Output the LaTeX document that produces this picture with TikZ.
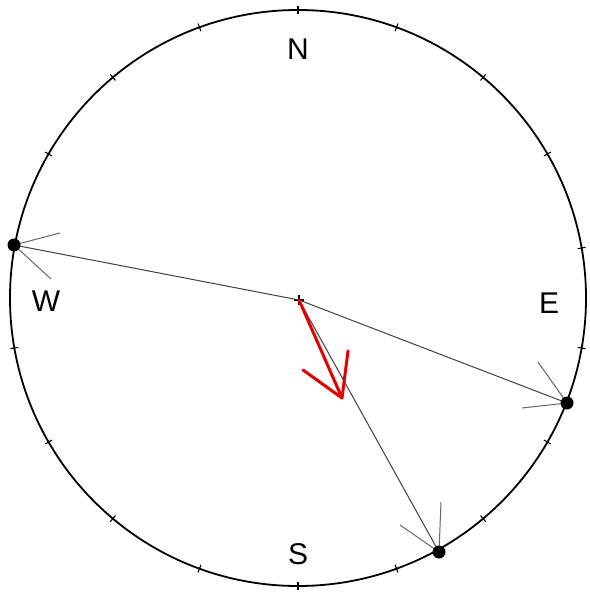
\documentclass[tikz,border=0pt]{standalone}
\usepackage{fontspec}
\setmainfont{Liberation Sans}
\begin{document}
\begin{tikzpicture}[x=1pt,y=-1pt,
  net/.style={line width=1.8pt,black},
  tickmark/.style={line width=1.1pt,black},
  gc/.style={line width=1pt,black!75},
  wing/.style={line width=1pt,black!60},
  pole/.style={circle,fill=black,inner sep=0pt,minimum size=13pt},
  dirlabel/.style={font=\fontsize{30}{30}\selectfont,anchor=base,inner sep=0pt},
  vec/.style={line width=3pt,red!90!black,line cap=round,line join=round}]
\useasboundingbox (0,0) rectangle (589,593);
\coordinate (O) at (298,298);
\draw[net] (O) circle (288);
\foreach \a in {0,20,...,340}
  \draw[tickmark] (O) ++(\a-90:284) -- ++(\a-90:8);
% centre cross
\coordinate (C) at (299,300);
\draw[tickmark] (C) ++(-5,0) -- ++(10,0);
\draw[tickmark] (C) ++(0,-5) -- ++(0,10);
% labels
\node[dirlabel] (N) at (298,60) {N};
\node[dirlabel] (E) at (549,313) {E};
\node[dirlabel] (S) at (298,564) {S};
\node[dirlabel] (W) at (46,311) {W};
% poles
\coordinate (Wp) at (14,245);
\coordinate (Ep) at (567,403);
\coordinate (Sp) at (439,552);
\coordinate (Wa) at (60,233);
\coordinate (Wb) at (51,279);
\coordinate (Ea) at (538,362);
\coordinate (Eb) at (522,408);
\coordinate (Sa) at (441,502);
\coordinate (Sb) at (400,525);
\draw[gc] (Wp) -- (C) -- (Ep);
\draw[gc] (C) -- (Sp);
\draw[wing] (Wa) -- (Wp) -- (Wb);
\draw[wing] (Ea) -- (Ep) -- (Eb);
\draw[wing] (Sa) -- (Sp) -- (Sb);
\node[pole] (WP) at (Wp) {};
\node[pole] (EP) at (Ep) {};
\node[pole] (SP) at (Sp) {};
% red vector
\coordinate (Rt) at (342,398);
\coordinate (Ra) at (303,370);
\coordinate (Rb) at (348,351);
\draw[vec] (C) -- (Rt);
\draw[vec] (Ra) -- (Rt) -- (Rb);
\end{tikzpicture}
\end{document}
